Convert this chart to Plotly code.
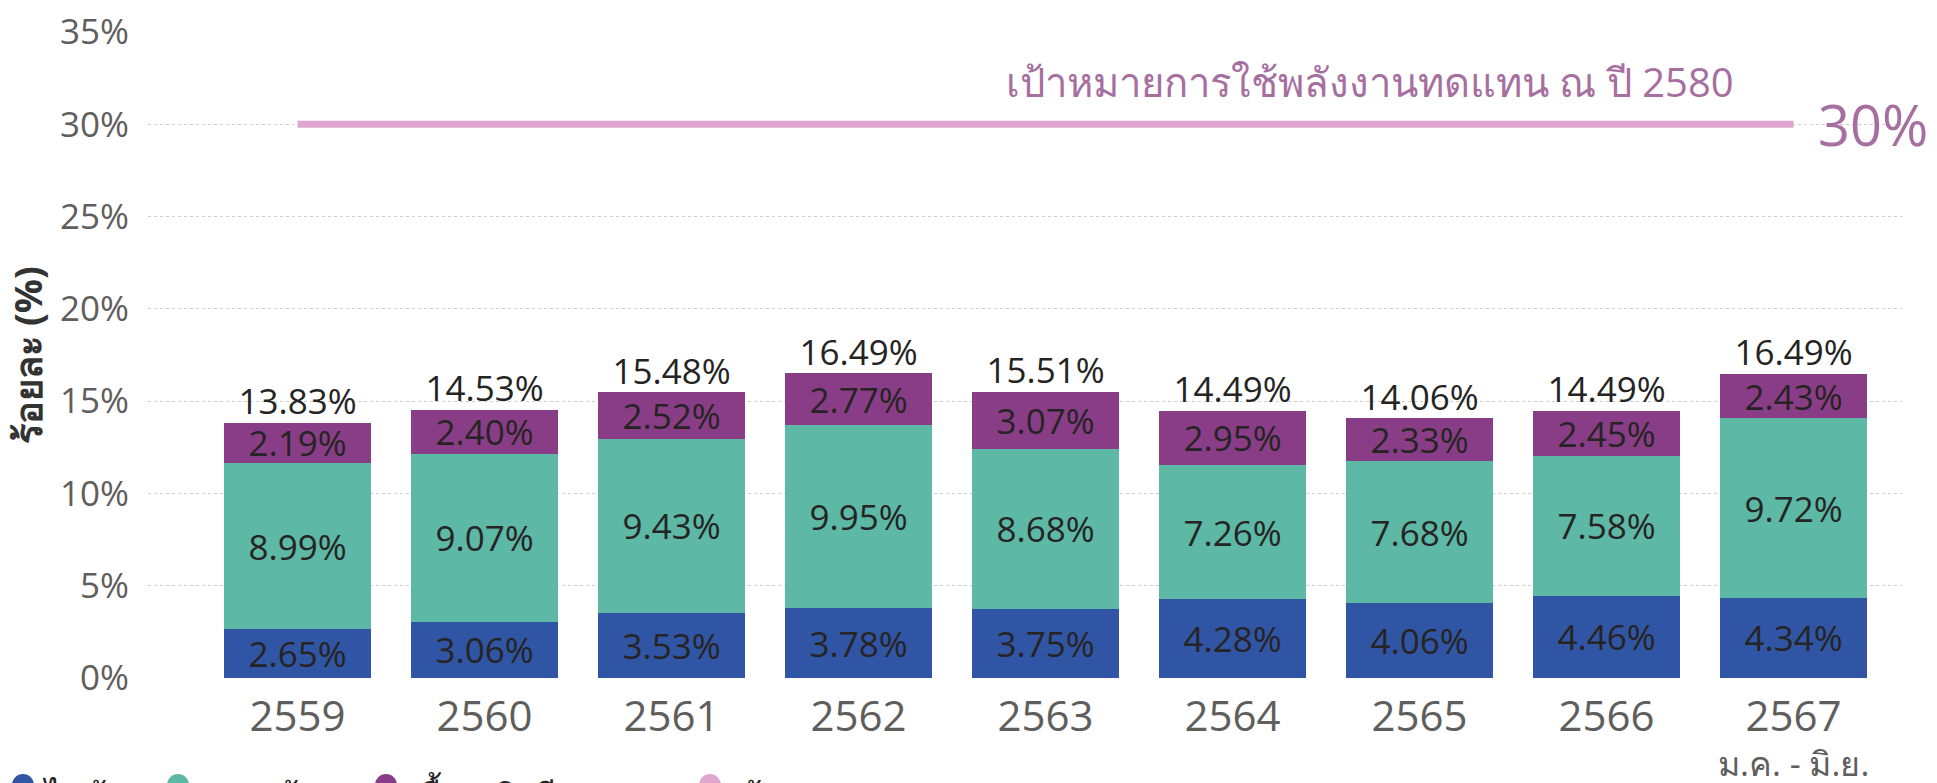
import plotly.graph_objects as go

years = ["2559", "2560", "2561", "2562", "2563", "2564", "2565", "2566", "2567"]
electric = [2.65, 3.06, 3.53, 3.78, 3.75, 4.28, 4.06, 4.46, 4.34]
heat = [8.99, 9.07, 9.43, 9.95, 8.68, 7.26, 7.68, 7.58, 9.72]
bio = [2.19, 2.40, 2.52, 2.77, 3.07, 2.95, 2.33, 2.45, 2.43]
totals = [13.83, 14.53, 15.48, 16.49, 15.51, 14.49, 14.06, 14.49, 16.49]
target = 30
series_names = ["ไฟฟ้า", "ความร้อน", "เชื้อเพลิงชีวภาพ", "เป้าหมาย"]
colors = ["#3155A5", "#5DB8A6", "#8A3D87", "#E0A6CF"]

FONT = "Open Sans, Noto Sans, sans-serif"
xs = list(range(len(years)))

fig = go.Figure()
for vals, name, col in zip([electric, heat, bio], series_names[:3], colors[:3]):
    fig.add_trace(go.Bar(
        x=xs, y=vals, name=name, marker=dict(color=col, line=dict(width=0)),
        width=0.786, text=[f"{v:.2f}%" for v in vals], textposition="inside",
        insidetextanchor="middle", constraintext="none",
        textfont=dict(family=FONT, size=35, color="#252423"),
        showlegend=False, hoverinfo="skip"))

fig.add_trace(go.Scatter(
    x=xs, y=totals, mode="text", text=[f"{v:.2f}%" for v in totals],
    textposition="top center", textfont=dict(family=FONT, size=35, color="#252423"),
    showlegend=False, hoverinfo="skip", cliponaxis=False))

fig.add_trace(go.Scatter(
    x=[xs[0], xs[-1]], y=[target, target], mode="lines",
    line=dict(color=colors[3], width=7), showlegend=False, hoverinfo="skip"))

fig.add_annotation(x=xs[-1], y=target, xref="x", yref="y", text=f"{target}%",
                   showarrow=False, xanchor="left", xshift=22, yanchor="middle",
                   font=dict(family=FONT, size=56, color="#A66FA0"))
fig.add_annotation(x=xs[-1], y=32.3, xref="x", yref="y",
                   text="เป้าหมายการใช้พลังงานทดแทน ณ ปี 2580",
                   showarrow=False, xanchor="right", xshift=-58, yanchor="middle",
                   font=dict(family=FONT, size=40, color="#A66FA0"))
fig.add_annotation(x=xs[-1], y=0, xref="x", yref="y", text="ม.ค. - มิ.ย.",
                   showarrow=False, xanchor="center", yanchor="top", yshift=-60,
                   font=dict(family=FONT, size=34, color="#605E5C"))
fig.add_annotation(x=-0.069, y=0.5, xref="paper", yref="paper", text="<b>ร้อยละ (%)</b>",
                   textangle=-90, showarrow=False, xanchor="center", yanchor="middle",
                   font=dict(family=FONT, size=38, color="#333333"))

# manual legend (circles + labels), positioned in pixels below the axis
PLOT_H = 783 - 32 - 105
leg_circle_x = [23, 178, 386, 710]
leg_text_x = [40, 196, 404, 729]
cy = (678 - 785) / PLOT_H
ty = (678 - 795) / PLOT_H
for name, col, cx_px, tx_px in zip(series_names, colors, leg_circle_x, leg_text_x):
    cx = (cx_px - 148) / (1937 - 148 - 35)
    tx = (tx_px - 148) / (1937 - 148 - 35)
    fig.add_shape(type="circle", xref="paper", yref="paper", xsizemode="pixel",
                  ysizemode="pixel", xanchor=cx, yanchor=cy, x0=-11, x1=11, y0=-11, y1=11,
                  fillcolor=col, line=dict(width=0))
    fig.add_annotation(x=tx, y=ty, xref="paper", yref="paper", text=name,
                       showarrow=False, xanchor="left", yanchor="middle",
                       font=dict(family=FONT, size=34, color="#252423"))

fig.update_layout(
    width=1937, height=783,
    margin=dict(l=148, r=35, t=32, b=105, autoexpand=False),
    paper_bgcolor="white", plot_bgcolor="white",
    barmode="stack", showlegend=False,
    font=dict(family=FONT),
    xaxis=dict(tickmode="array", tickvals=xs, ticktext=years, range=[-0.80, 8.58],
               showgrid=False, zeroline=False, showline=False, ticklabelstandoff=10,
               tickfont=dict(family=FONT, size=42, color="#605E5C"), ticks=""),
    yaxis=dict(range=[0, 35], tickvals=[0, 5, 10, 15, 20, 25, 30, 35],
               ticktext=[f"{v}%" for v in [0, 5, 10, 15, 20, 25, 30, 35]],
               showgrid=True, gridcolor="#D0CECC", griddash="dot", gridwidth=1,
               zeroline=False, showline=False, ticklabelstandoff=18,
               tickfont=dict(family=FONT, size=35, color="#605E5C")),
)

fig.write_html("out.html")
